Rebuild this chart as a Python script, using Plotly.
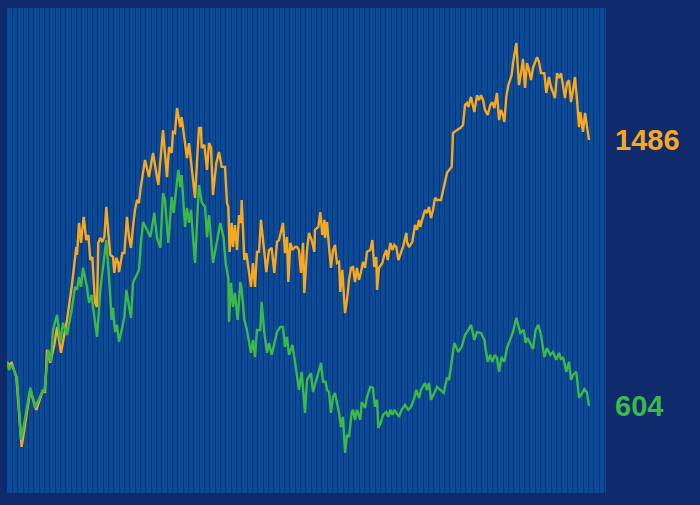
import plotly.graph_objects as go

# Day offsets and values
orange_days = [0, 3, 7, 14, 22, 35, 44, 54, 57, 60, 65, 71, 75, 81, 90, 97, 104, 105, 108, 111,
               115, 119, 122, 125, 128, 129, 132, 135, 137, 140, 143, 146, 149, 152, 155, 159, 161, 164, 167, 168,
               173, 176, 180, 183, 186, 189, 192, 195, 198, 200, 207, 213, 219, 227, 234, 240, 243, 247, 249, 252,
               255, 260, 262, 266, 270, 273, 277, 282, 285, 288, 291, 292, 296, 300, 303, 306, 309, 314, 318, 322,
               327, 330, 332, 334, 337, 339, 342, 345, 348, 351, 352, 356, 359, 362, 366, 369, 372, 375, 378, 381,
               384, 389, 393, 397, 401, 405, 408, 414, 417, 420, 422, 425, 428, 432, 435, 438, 441, 444, 446, 450,
               453, 457, 461, 462, 467, 470, 473, 476, 477, 480, 483, 486, 489, 492, 495, 498, 500, 503, 507, 510,
               513, 516, 519, 522, 525, 528, 531, 534, 537, 540, 545, 548, 551, 554, 555, 558, 563, 566, 569, 571,
               575, 578, 581, 584, 587, 591, 594, 599, 600, 603, 608, 612, 615, 618, 620, 624, 627, 630, 633, 636,
               639, 642, 645, 651, 655, 660, 667, 669, 675, 680, 684, 687, 690, 692, 696, 701, 705, 708, 711, 714,
               717, 721, 725, 728, 731, 735, 738, 741, 744, 746, 749, 752, 757, 759, 764, 766, 768, 771, 774, 777,
               780, 783, 786, 789, 792, 795, 798, 801, 806, 809, 813, 816, 822, 825, 828, 831, 837, 840, 843, 846,
               849, 852, 855, 858, 860, 864, 867, 870, 873]
orange_values = [750, 740, 747, 700, 468, 657, 591, 657, 647, 790, 747, 806, 866, 780, 889, 999, 1131, 1105, 1211, 1145,
                 1231, 1154, 1171, 1088, 1098, 1055, 946, 932, 1145, 1161, 1148, 1164, 1264, 1178, 1105, 1098, 1045, 1095, 1078, 1048,
                 1111, 1111, 1231, 1164, 1128, 1198, 1254, 1287, 1277, 1320, 1420, 1363, 1443, 1337, 1519, 1363, 1463, 1443, 1513, 1509,
                 1592, 1529, 1562, 1493, 1426, 1476, 1397, 1294, 1413, 1526, 1526, 1460, 1470, 1387, 1476, 1463, 1304, 1410, 1446, 1397,
                 1397, 1277, 1264, 1115, 1211, 1131, 1204, 1121, 1237, 1211, 1287, 1088, 1111, 1065, 999, 1078, 999, 1115, 1115, 1221,
                 1154, 1048, 1121, 1128, 1045, 1148, 1154, 1211, 1111, 1164, 1015, 1145, 1121, 1131, 1131, 1121, 1045, 1145, 979, 1121,
                 1178, 1154, 1115, 1188, 1198, 1247, 1171, 1221, 1161, 1214, 1131, 1062, 1121, 1138, 1078, 1082, 982, 1055, 912, 955,
                 1022, 1062, 1065, 1015, 1062, 1022, 1048, 1082, 1062, 1115, 1121, 1154, 1065, 1098, 989, 1062, 1078, 1105, 1121, 1088,
                 1145, 1121, 1138, 1131, 1088, 1111, 1131, 1178, 1148, 1131, 1148, 1204, 1188, 1221, 1198, 1231, 1254, 1244, 1264, 1227,
                 1254, 1294, 1287, 1287, 1330, 1377, 1397, 1509, 1519, 1526, 1536, 1602, 1609, 1596, 1629, 1579, 1635, 1619, 1635, 1619,
                 1586, 1569, 1602, 1612, 1592, 1642, 1552, 1586, 1569, 1546, 1629, 1668, 1702, 1741, 1808, 1741, 1668, 1708, 1755, 1659,
                 1741, 1718, 1685, 1725, 1745, 1761, 1745, 1708, 1708, 1642, 1695, 1662, 1625, 1708, 1692, 1708, 1625, 1675, 1685, 1612,
                 1652, 1695, 1619, 1529, 1579, 1513, 1576, 1536, 1486]

green_days = [0, 3, 7, 15, 21, 24, 35, 42, 54, 56, 62, 66, 69, 75, 80, 84, 90, 97, 102, 105,
              108, 111, 114, 120, 123, 127, 129, 135, 140, 144, 149, 153, 157, 159, 162, 165, 168, 173, 176, 179,
              182, 186, 189, 195, 198, 201, 204, 210, 215, 221, 225, 230, 234, 237, 242, 247, 250, 257, 260, 262,
              267, 270, 273, 276, 282, 288, 292, 297, 300, 303, 309, 320, 325, 328, 332, 333, 336, 339, 342, 346,
              350, 352, 356, 359, 362, 366, 369, 372, 375, 380, 382, 386, 390, 393, 397, 402, 405, 410, 414, 417,
              420, 423, 428, 431, 435, 438, 442, 447, 450, 456, 459, 465, 471, 474, 478, 480, 483, 486, 489, 492,
              498, 501, 504, 507, 510, 513, 517, 519, 522, 525, 530, 532, 537, 540, 545, 549, 552, 555, 557, 561,
              564, 569, 572, 575, 578, 581, 584, 588, 592, 597, 602, 606, 610, 614, 618, 621, 627, 630, 633, 636,
              641, 645, 650, 655, 660, 663, 671, 677, 682, 687, 692, 696, 701, 705, 711, 716, 721, 725, 728, 732,
              735, 738, 742, 746, 750, 755, 759, 764, 767, 770, 775, 778, 781, 785, 789, 793, 797, 801, 806, 810,
              815, 819, 824, 828, 831, 834, 839, 843, 846, 849, 854, 858, 861, 866, 870, 873]
green_values = [750, 723, 740, 697, 491, 524, 664, 597, 657, 650, 790, 750, 856, 906, 816, 879, 839, 922, 999, 989,
                1032, 999, 1062, 999, 946, 972, 932, 833, 989, 1062, 1154, 1032, 889, 929, 849, 873, 816, 866, 899, 989,
                946, 896, 1012, 1038, 1055, 1148, 1214, 1188, 1164, 1244, 1161, 1128, 1310, 1287, 1145, 1297, 1244, 1387, 1330, 1370,
                1198, 1261, 1211, 1254, 1078, 1337, 1280, 1264, 1164, 1237, 1078, 1211, 1161, 1078, 1028, 883, 1012, 932, 979, 889,
                1015, 989, 889, 866, 833, 780, 823, 766, 856, 856, 949, 846, 780, 813, 773, 823, 849, 866, 866, 800,
                833, 773, 806, 766, 700, 657, 717, 581, 690, 713, 650, 700, 747, 684, 684, 657, 650, 581, 634, 647,
                581, 534, 568, 448, 508, 501, 581, 591, 558, 591, 558, 617, 597, 634, 667, 664, 601, 624, 531, 551,
                574, 584, 568, 591, 574, 591, 581, 568, 591, 607, 591, 601, 624, 657, 630, 657, 680, 657, 680, 624,
                647, 667, 657, 647, 697, 690, 813, 783, 800, 839, 856, 873, 823, 849, 846, 823, 750, 773, 750, 773,
                763, 717, 766, 750, 796, 829, 849, 896, 866, 846, 856, 813, 829, 813, 793, 856, 873, 839, 766, 796,
                773, 783, 757, 780, 757, 766, 717, 750, 690, 707, 717, 631, 640, 660, 647, 604]

ORANGE = "#f8a81f"
GREEN = "#3db94a"
PAPER = "#102b6b"

fig = go.Figure()
fig.add_trace(go.Scatter(x=orange_days, y=orange_values, mode="lines",
                         line=dict(color=ORANGE, width=2.4), showlegend=False))
fig.add_trace(go.Scatter(x=green_days, y=green_values, mode="lines",
                         line=dict(color=GREEN, width=2.4), showlegend=False))

for vals, col in [(orange_values, ORANGE), (green_values, GREEN)]:
    fig.add_annotation(x=1, xref="paper", y=vals[-1], yref="y", xanchor="left", xshift=7,
                       text=f"<b>{vals[-1]}</b>", showarrow=False,
                       font=dict(family="Liberation Sans, Arial, sans-serif", size=29, color=col))

fig.update_layout(
    width=700, height=505,
    margin=dict(l=7, r=94, t=8, b=12),
    paper_bgcolor=PAPER,
    plot_bgcolor="#0b4a97",
    xaxis=dict(range=[0, 898.5], showgrid=True, gridcolor="#0b3375", gridwidth=1,
               tick0=0, dtick=8, showticklabels=False, zeroline=False, ticks=""),
    yaxis=dict(range=[315, 1924], showgrid=False, showticklabels=False, zeroline=False, ticks=""),
)

fig.write_html(
    "out.html",
    config={"displayModeBar": False},
    post_script=f"document.body.style.margin='0';document.body.style.background='{PAPER}';"
                "document.body.style.overflow='hidden';",
)
